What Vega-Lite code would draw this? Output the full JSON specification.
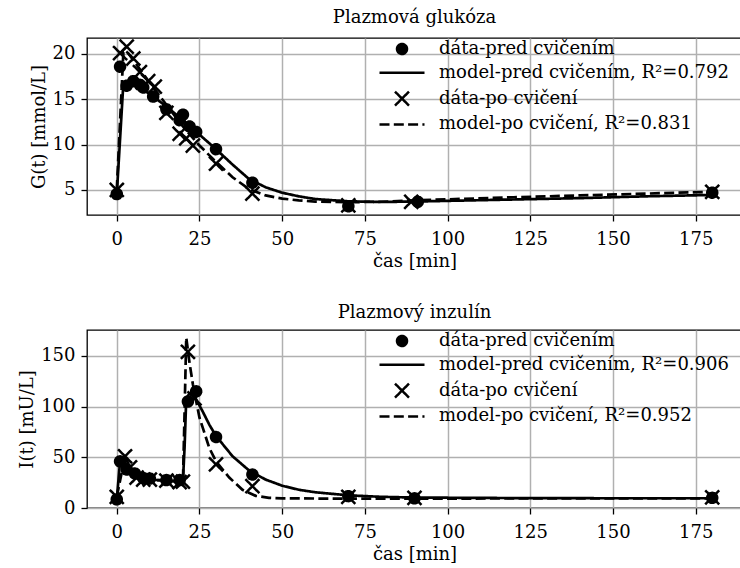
{
  "$schema": "https://vega.github.io/schema/vega-lite/v6.json",
  "background": "white",
  "padding": {"left": 17, "top": 8, "right": 0, "bottom": 0},
  "bounds": "flush",
  "spacing": 115,
  "config": {
    "font": "DejaVu Serif",
    "style": {"guide-label": {"font": "DejaVu Serif"}, "guide-title": {"font": "DejaVu Serif"}, "group-title": {"font": "DejaVu Serif"}},
    "view": {"stroke": "black", "strokeWidth": 1.3},
    "axis": {
      "labelFont": "DejaVu Serif", "titleFont": "DejaVu Serif",
      "labelFontSize": 18, "titleFontSize": 18, "titleFontWeight": "normal", "labelFontWeight": "normal",
      "labelColor": "black", "titleColor": "black", "domain": false,
      "tickColor": "black", "tickSize": 6, "tickWidth": 1.3,
      "gridColor": "#b0b0b0", "gridWidth": 1.5, "gridOpacity": 1,
      "labelPadding": 6, "labelFlush": false, "labelOverlap": false
    },
    "axisX": {"labelPadding": 9, "titlePadding": 4},
    "legend": {"labelFont": "DejaVu Serif", "labelFontSize": 18, "labelFontWeight": "normal", "labelColor": "black", "symbolFillColor": "black", "symbolStrokeColor": "black"},
    "title": {"font": "DejaVu Serif", "fontSize": 18, "fontWeight": "normal", "color": "black", "offset": 8}
  },
  "datasets": {
    "gdata": [
      {"t": 0, "y": 4.55, "series": "dáta-pred cvičením"},
      {"t": 1, "y": 18.6, "series": "dáta-pred cvičením"},
      {"t": 3, "y": 16.5, "series": "dáta-pred cvičením"},
      {"t": 5, "y": 17.0, "series": "dáta-pred cvičením"},
      {"t": 7, "y": 16.6, "series": "dáta-pred cvičením"},
      {"t": 8, "y": 16.3, "series": "dáta-pred cvičením"},
      {"t": 11, "y": 15.3, "series": "dáta-pred cvičením"},
      {"t": 15, "y": 13.9, "series": "dáta-pred cvičením"},
      {"t": 19, "y": 12.7, "series": "dáta-pred cvičením"},
      {"t": 20, "y": 13.3, "series": "dáta-pred cvičením"},
      {"t": 22, "y": 12.0, "series": "dáta-pred cvičením"},
      {"t": 24, "y": 11.4, "series": "dáta-pred cvičením"},
      {"t": 30, "y": 9.5, "series": "dáta-pred cvičením"},
      {"t": 41, "y": 5.8, "series": "dáta-pred cvičením"},
      {"t": 70, "y": 3.2, "series": "dáta-pred cvičením"},
      {"t": 91, "y": 3.7, "series": "dáta-pred cvičením"},
      {"t": 180, "y": 4.7, "series": "dáta-pred cvičením"},
      {"t": 0, "y": 5.0, "series": "dáta-po cvičení"},
      {"t": 1, "y": 20.1, "series": "dáta-po cvičení"},
      {"t": 3, "y": 20.8, "series": "dáta-po cvičení"},
      {"t": 5, "y": 19.5, "series": "dáta-po cvičení"},
      {"t": 7, "y": 18.0, "series": "dáta-po cvičení"},
      {"t": 9.5, "y": 17.0, "series": "dáta-po cvičení"},
      {"t": 11.5, "y": 16.4, "series": "dáta-po cvičení"},
      {"t": 15, "y": 13.5, "series": "dáta-po cvičení"},
      {"t": 19, "y": 11.2, "series": "dáta-po cvičení"},
      {"t": 21, "y": 10.7, "series": "dáta-po cvičení"},
      {"t": 23, "y": 9.9, "series": "dáta-po cvičení"},
      {"t": 30, "y": 7.9, "series": "dáta-po cvičení"},
      {"t": 41, "y": 4.6, "series": "dáta-po cvičení"},
      {"t": 70, "y": 3.3, "series": "dáta-po cvičení"},
      {"t": 89, "y": 3.7, "series": "dáta-po cvičení"},
      {"t": 180, "y": 4.8, "series": "dáta-po cvičení"}
    ],
    "gmodel": [
      {"t": 0, "y": 4.5, "series": "model-pred cvičením, R²=0.792"},
      {"t": 2, "y": 16.8, "series": "model-pred cvičením, R²=0.792"},
      {"t": 3, "y": 16.9, "series": "model-pred cvičením, R²=0.792"},
      {"t": 5, "y": 16.6, "series": "model-pred cvičením, R²=0.792"},
      {"t": 10, "y": 15.6, "series": "model-pred cvičením, R²=0.792"},
      {"t": 15, "y": 14.2, "series": "model-pred cvičením, R²=0.792"},
      {"t": 20, "y": 12.7, "series": "model-pred cvičením, R²=0.792"},
      {"t": 25, "y": 11.1, "series": "model-pred cvičením, R²=0.792"},
      {"t": 30, "y": 9.5, "series": "model-pred cvičením, R²=0.792"},
      {"t": 35, "y": 7.8, "series": "model-pred cvičením, R²=0.792"},
      {"t": 40, "y": 6.2, "series": "model-pred cvičením, R²=0.792"},
      {"t": 45, "y": 5.3, "series": "model-pred cvičením, R²=0.792"},
      {"t": 50, "y": 4.7, "series": "model-pred cvičením, R²=0.792"},
      {"t": 55, "y": 4.3, "series": "model-pred cvičením, R²=0.792"},
      {"t": 60, "y": 4.0, "series": "model-pred cvičením, R²=0.792"},
      {"t": 70, "y": 3.75, "series": "model-pred cvičením, R²=0.792"},
      {"t": 80, "y": 3.68, "series": "model-pred cvičením, R²=0.792"},
      {"t": 90, "y": 3.72, "series": "model-pred cvičením, R²=0.792"},
      {"t": 100, "y": 3.8, "series": "model-pred cvičením, R²=0.792"},
      {"t": 120, "y": 3.95, "series": "model-pred cvičením, R²=0.792"},
      {"t": 140, "y": 4.1, "series": "model-pred cvičením, R²=0.792"},
      {"t": 160, "y": 4.3, "series": "model-pred cvičením, R²=0.792"},
      {"t": 180, "y": 4.45, "series": "model-pred cvičením, R²=0.792"},
      {"t": 0, "y": 5.0, "series": "model-po cvičení, R²=0.831"},
      {"t": 2, "y": 20.2, "series": "model-po cvičení, R²=0.831"},
      {"t": 3, "y": 20.3, "series": "model-po cvičení, R²=0.831"},
      {"t": 5, "y": 19.3, "series": "model-po cvičení, R²=0.831"},
      {"t": 10, "y": 16.8, "series": "model-po cvičení, R²=0.831"},
      {"t": 15, "y": 14.4, "series": "model-po cvičení, R²=0.831"},
      {"t": 20, "y": 12.0, "series": "model-po cvičení, R²=0.831"},
      {"t": 25, "y": 9.9, "series": "model-po cvičení, R²=0.831"},
      {"t": 30, "y": 8.1, "series": "model-po cvičení, R²=0.831"},
      {"t": 35, "y": 6.4, "series": "model-po cvičení, R²=0.831"},
      {"t": 40, "y": 5.1, "series": "model-po cvičení, R²=0.831"},
      {"t": 45, "y": 4.4, "series": "model-po cvičení, R²=0.831"},
      {"t": 50, "y": 4.05, "series": "model-po cvičení, R²=0.831"},
      {"t": 55, "y": 3.85, "series": "model-po cvičení, R²=0.831"},
      {"t": 60, "y": 3.72, "series": "model-po cvičení, R²=0.831"},
      {"t": 70, "y": 3.65, "series": "model-po cvičení, R²=0.831"},
      {"t": 80, "y": 3.7, "series": "model-po cvičení, R²=0.831"},
      {"t": 90, "y": 3.85, "series": "model-po cvičení, R²=0.831"},
      {"t": 100, "y": 3.97, "series": "model-po cvičení, R²=0.831"},
      {"t": 120, "y": 4.2, "series": "model-po cvičení, R²=0.831"},
      {"t": 140, "y": 4.4, "series": "model-po cvičení, R²=0.831"},
      {"t": 160, "y": 4.6, "series": "model-po cvičení, R²=0.831"},
      {"t": 180, "y": 4.8, "series": "model-po cvičení, R²=0.831"}
    ],
    "idata": [
      {"t": 0, "y": 8.5, "series": "dáta-pred cvičením"},
      {"t": 1, "y": 46, "series": "dáta-pred cvičením"},
      {"t": 3, "y": 38, "series": "dáta-pred cvičením"},
      {"t": 5.5, "y": 34, "series": "dáta-pred cvičením"},
      {"t": 8, "y": 29.5, "series": "dáta-pred cvičením"},
      {"t": 10, "y": 29, "series": "dáta-pred cvičením"},
      {"t": 15, "y": 27.5, "series": "dáta-pred cvičením"},
      {"t": 19, "y": 27.5, "series": "dáta-pred cvičením"},
      {"t": 21.5, "y": 105, "series": "dáta-pred cvičením"},
      {"t": 24, "y": 115, "series": "dáta-pred cvičením"},
      {"t": 30, "y": 70, "series": "dáta-pred cvičením"},
      {"t": 41, "y": 33, "series": "dáta-pred cvičením"},
      {"t": 70, "y": 11.7, "series": "dáta-pred cvičením"},
      {"t": 90, "y": 9.5, "series": "dáta-pred cvičením"},
      {"t": 180, "y": 10, "series": "dáta-pred cvičením"},
      {"t": 0, "y": 11, "series": "dáta-po cvičení"},
      {"t": 2.5, "y": 51, "series": "dáta-po cvičení"},
      {"t": 4, "y": 40, "series": "dáta-po cvičení"},
      {"t": 6, "y": 30, "series": "dáta-po cvičení"},
      {"t": 8, "y": 28, "series": "dáta-po cvičení"},
      {"t": 10, "y": 28, "series": "dáta-po cvičení"},
      {"t": 15, "y": 27, "series": "dáta-po cvičení"},
      {"t": 19, "y": 25.5, "series": "dáta-po cvičení"},
      {"t": 20, "y": 26, "series": "dáta-po cvičení"},
      {"t": 21.5, "y": 154, "series": "dáta-po cvičení"},
      {"t": 23.5, "y": 108, "series": "dáta-po cvičení"},
      {"t": 30, "y": 43, "series": "dáta-po cvičení"},
      {"t": 41, "y": 21.5, "series": "dáta-po cvičení"},
      {"t": 70, "y": 11, "series": "dáta-po cvičení"},
      {"t": 90, "y": 10, "series": "dáta-po cvičení"},
      {"t": 180, "y": 10.5, "series": "dáta-po cvičení"}
    ],
    "imodel": [
      {"t": 0, "y": 8.5, "series": "model-pred cvičením, R²=0.906"},
      {"t": 1, "y": 46, "series": "model-pred cvičením, R²=0.906"},
      {"t": 2, "y": 42, "series": "model-pred cvičením, R²=0.906"},
      {"t": 3, "y": 37, "series": "model-pred cvičením, R²=0.906"},
      {"t": 5, "y": 31, "series": "model-pred cvičením, R²=0.906"},
      {"t": 7, "y": 29, "series": "model-pred cvičením, R²=0.906"},
      {"t": 10, "y": 28, "series": "model-pred cvičením, R²=0.906"},
      {"t": 15, "y": 27, "series": "model-pred cvičením, R²=0.906"},
      {"t": 20, "y": 26.5, "series": "model-pred cvičením, R²=0.906"},
      {"t": 20.5, "y": 60, "series": "model-pred cvičením, R²=0.906"},
      {"t": 21, "y": 108, "series": "model-pred cvičením, R²=0.906"},
      {"t": 22, "y": 113, "series": "model-pred cvičením, R²=0.906"},
      {"t": 23, "y": 112, "series": "model-pred cvičením, R²=0.906"},
      {"t": 24, "y": 107, "series": "model-pred cvičením, R²=0.906"},
      {"t": 26, "y": 95, "series": "model-pred cvičením, R²=0.906"},
      {"t": 28, "y": 82, "series": "model-pred cvičením, R²=0.906"},
      {"t": 30, "y": 71, "series": "model-pred cvičením, R²=0.906"},
      {"t": 35, "y": 51, "series": "model-pred cvičením, R²=0.906"},
      {"t": 40, "y": 37, "series": "model-pred cvičením, R²=0.906"},
      {"t": 45, "y": 28, "series": "model-pred cvičením, R²=0.906"},
      {"t": 50, "y": 22, "series": "model-pred cvičením, R²=0.906"},
      {"t": 55, "y": 18, "series": "model-pred cvičením, R²=0.906"},
      {"t": 60, "y": 15.5, "series": "model-pred cvičením, R²=0.906"},
      {"t": 70, "y": 12.5, "series": "model-pred cvičením, R²=0.906"},
      {"t": 80, "y": 11, "series": "model-pred cvičením, R²=0.906"},
      {"t": 90, "y": 10.3, "series": "model-pred cvičením, R²=0.906"},
      {"t": 120, "y": 9.8, "series": "model-pred cvičením, R²=0.906"},
      {"t": 150, "y": 9.6, "series": "model-pred cvičením, R²=0.906"},
      {"t": 180, "y": 9.6, "series": "model-pred cvičením, R²=0.906"},
      {"t": 0, "y": 11, "series": "model-po cvičení, R²=0.952"},
      {"t": 2.5, "y": 51, "series": "model-po cvičení, R²=0.952"},
      {"t": 4, "y": 40, "series": "model-po cvičení, R²=0.952"},
      {"t": 6, "y": 31, "series": "model-po cvičení, R²=0.952"},
      {"t": 10, "y": 28, "series": "model-po cvičení, R²=0.952"},
      {"t": 15, "y": 27, "series": "model-po cvičení, R²=0.952"},
      {"t": 20, "y": 25.5, "series": "model-po cvičení, R²=0.952"},
      {"t": 20.5, "y": 95, "series": "model-po cvičení, R²=0.952"},
      {"t": 21, "y": 168, "series": "model-po cvičení, R²=0.952"},
      {"t": 22, "y": 143, "series": "model-po cvičení, R²=0.952"},
      {"t": 23, "y": 122, "series": "model-po cvičení, R²=0.952"},
      {"t": 25, "y": 89, "series": "model-po cvičení, R²=0.952"},
      {"t": 28, "y": 59, "series": "model-po cvičení, R²=0.952"},
      {"t": 30, "y": 46, "series": "model-po cvičení, R²=0.952"},
      {"t": 34, "y": 30, "series": "model-po cvičení, R²=0.952"},
      {"t": 38, "y": 18, "series": "model-po cvičení, R²=0.952"},
      {"t": 42, "y": 12, "series": "model-po cvičení, R²=0.952"},
      {"t": 46, "y": 10, "series": "model-po cvičení, R²=0.952"},
      {"t": 50, "y": 9.5, "series": "model-po cvičení, R²=0.952"},
      {"t": 70, "y": 9.2, "series": "model-po cvičení, R²=0.952"},
      {"t": 90, "y": 9.3, "series": "model-po cvičení, R²=0.952"},
      {"t": 180, "y": 9.5, "series": "model-po cvičení, R²=0.952"}
    ]
  },
  "resolve": {"scale": {"shape": "independent", "strokeDash": "independent"}},
  "vconcat": [
    {
      "title": "Plazmová glukóza",
      "width": 655,
      "height": 177,
      "layer": [
        {
          "data": {"name": "gmodel"},
          "mark": {"type": "line", "color": "black", "strokeWidth": 2.7, "strokeCap": "butt"},
          "encoding": {
            "x": {"field": "t", "type": "quantitative", "scale": {"domain": [-9, 189], "nice": false, "zero": false},
                  "axis": {"values": [0, 25, 50, 75, 100, 125, 150, 175], "title": "čas [min]"}},
            "y": {"field": "y", "type": "quantitative", "scale": {"domain": [2.24, 21.76], "nice": false, "zero": false},
                  "axis": {"values": [5, 10, 15, 20], "title": "G(t) [mmol/L]"}},
            "strokeDash": {"field": "series", "type": "nominal",
              "scale": {"domain": ["dáta-pred cvičením", "model-pred cvičením, R²=0.792", "dáta-po cvičení", "model-po cvičení, R²=0.831"],
                        "range": [[1, 0], [1, 0], [1, 0], [10, 4.3]]},
              "legend": {"orient": "none", "legendX": 306, "legendY": 2, "padding": 0, "title": null, "labelOffset": 28, "rowPadding": 4.8, "labelFont": "DejaVu Serif", "labelFontSize": 18, "labelLimit": 0, "symbolSize": 100, "symbolStrokeWidth": 2.5, "symbolFillColor": "black",
                "encode": {"symbols": {"enter": {"fill": {"value": "black"}}, "update": {"fill": {"value": "black"}, "stroke": {"value": "black"}, "strokeWidth": {"value": 2.5}, "opacity": {"value": 1}}}}}}
          }
        },
        {
          "data": {"name": "gdata"},
          "mark": {"type": "point", "filled": true, "fill": "black", "stroke": "black", "strokeWidth": 2.5, "size": 100, "opacity": 1},
          "encoding": {
            "x": {"field": "t", "type": "quantitative"},
            "y": {"field": "y", "type": "quantitative"},
            "shape": {"field": "series", "type": "nominal",
              "scale": {"domain": ["dáta-pred cvičením", "model-pred cvičením, R²=0.792", "dáta-po cvičení", "model-po cvičení, R²=0.831"],
                        "range": ["circle", "M-4.5,0L4.5,0", "M-1.4,-1.4L1.4,1.4M-1.4,1.4L1.4,-1.4", "M-4.5,0L4.5,0"]},
              "legend": {"orient": "none", "legendX": 306, "legendY": 2, "padding": 0, "title": null, "labelOffset": 28, "rowPadding": 4.8, "labelFont": "DejaVu Serif", "labelFontSize": 18, "labelLimit": 0, "symbolSize": 100, "symbolStrokeWidth": 2.5, "symbolFillColor": "black",
                "encode": {"symbols": {"enter": {"fill": {"value": "black"}}, "update": {"fill": {"value": "black"}, "stroke": {"value": "black"}, "strokeWidth": {"value": 2.5}, "opacity": {"value": 1}}}}}},
            "strokeDash": {"field": "series", "type": "nominal"}
          }
        }
      ]
    },
    {
      "title": "Plazmový inzulín",
      "width": 655,
      "height": 178,
      "layer": [
        {
          "data": {"name": "imodel"},
          "mark": {"type": "line", "color": "black", "strokeWidth": 2.7, "strokeCap": "butt"},
          "encoding": {
            "x": {"field": "t", "type": "quantitative", "scale": {"domain": [-9, 189], "nice": false, "zero": false},
                  "axis": {"values": [0, 25, 50, 75, 100, 125, 150, 175], "title": "čas [min]"}},
            "y": {"field": "y", "type": "quantitative", "scale": {"domain": [0, 175.5], "nice": false, "zero": false},
                  "axis": {"values": [0, 50, 100, 150], "title": "I(t) [mU/L]"}},
            "strokeDash": {"field": "series", "type": "nominal",
              "scale": {"domain": ["dáta-pred cvičením", "model-pred cvičením, R²=0.906", "dáta-po cvičení", "model-po cvičení, R²=0.952"],
                        "range": [[1, 0], [1, 0], [1, 0], [10, 4.3]]},
              "legend": {"orient": "none", "legendX": 306, "legendY": 2, "padding": 0, "title": null, "labelOffset": 28, "rowPadding": 4.8, "labelFont": "DejaVu Serif", "labelFontSize": 18, "labelLimit": 0, "symbolSize": 100, "symbolStrokeWidth": 2.5, "symbolFillColor": "black",
                "encode": {"symbols": {"enter": {"fill": {"value": "black"}}, "update": {"fill": {"value": "black"}, "stroke": {"value": "black"}, "strokeWidth": {"value": 2.5}, "opacity": {"value": 1}}}}}}
          }
        },
        {
          "data": {"name": "idata"},
          "mark": {"type": "point", "filled": true, "fill": "black", "stroke": "black", "strokeWidth": 2.5, "size": 100, "opacity": 1},
          "encoding": {
            "x": {"field": "t", "type": "quantitative"},
            "y": {"field": "y", "type": "quantitative"},
            "shape": {"field": "series", "type": "nominal",
              "scale": {"domain": ["dáta-pred cvičením", "model-pred cvičením, R²=0.906", "dáta-po cvičení", "model-po cvičení, R²=0.952"],
                        "range": ["circle", "M-4.5,0L4.5,0", "M-1.4,-1.4L1.4,1.4M-1.4,1.4L1.4,-1.4", "M-4.5,0L4.5,0"]},
              "legend": {"orient": "none", "legendX": 306, "legendY": 2, "padding": 0, "title": null, "labelOffset": 28, "rowPadding": 4.8, "labelFont": "DejaVu Serif", "labelFontSize": 18, "labelLimit": 0, "symbolSize": 100, "symbolStrokeWidth": 2.5, "symbolFillColor": "black",
                "encode": {"symbols": {"enter": {"fill": {"value": "black"}}, "update": {"fill": {"value": "black"}, "stroke": {"value": "black"}, "strokeWidth": {"value": 2.5}, "opacity": {"value": 1}}}}}},
            "strokeDash": {"field": "series", "type": "nominal"}
          }
        }
      ]
    }
  ]
}
